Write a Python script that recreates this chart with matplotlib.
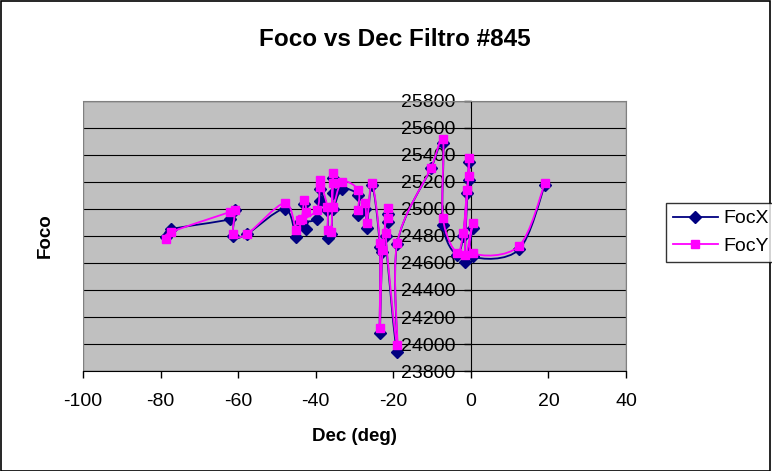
import numpy as np
import matplotlib
matplotlib.use('Agg')
import matplotlib.pyplot as plt
from matplotlib.path import Path
from matplotlib.patches import PathPatch, Rectangle
from matplotlib.lines import Line2D

plt.rcParams['font.family'] = ['Liberation Sans', 'DejaVu Sans']
plt.rcParams['axes.unicode_minus'] = False

# declination of each exposure and the focus found on each axis
dec = [-78.6, -77.2, -62.1, -60.8, -61.2, -57.7, -48.0, -45.0, -43.6, -43.0,
       -42.5, -44.0, -39.7, -39.0, -39.0, -37.0, -36.9, -36.0, -35.6, -35.6,
       -35.6, -33.3, -29.0, -29.0, -27.3, -26.8, -25.5, -23.5, -23.5, -22.8,
       -21.4, -21.4, -22.0, -19.0, -19.0, -10.3, -7.2, -7.2, -3.6, -2.0,
       -1.0, -0.5, -0.5, -1.5, 0.5, 0.5, 12.4, 19.1]
focx = [24790, 24850, 24925, 24990, 24800, 24815, 25000, 24793, 24900, 25040,
        24852, 24900, 24926, 25059, 25150, 24990, 24785, 24815, 25118, 25230,
        25000, 25148, 25100, 24956, 25000, 24860, 25180, 24720, 24081, 24680,
        24960, 24900, 24800, 23940, 24740, 25300, 25489, 24881, 24660, 24800,
        25120, 25215, 25350, 24610, 24859, 24650, 24700, 25180]
focy = [24778, 24830, 24978, 24993, 24815, 24815, 25044, 24844, 24926, 25067,
        24978, 24919, 24993, 25163, 25215, 25015, 24844, 24830, 25193, 25267,
        25015, 25200, 25141, 24993, 25044, 24896, 25193, 24748, 24118, 24696,
        25007, 24933, 24822, 23993, 24748, 25304, 25519, 24933, 24674, 24822,
        25141, 25244, 25378, 24660, 24896, 24674, 24726, 25193]


def smooth_path(x, y):
    # Bezier segments through the points, like a spreadsheet "smoothed line"
    pts = np.column_stack([x, y]).astype(float)
    n = len(pts)
    verts = [pts[0]]
    codes = [Path.MOVETO]
    for i in range(n - 1):
        p0 = pts[i - 1] if i > 0 else pts[i]
        p1 = pts[i]
        p2 = pts[i + 1]
        p3 = pts[i + 2] if i + 2 < n else pts[i + 1]
        verts += [p1 + (p2 - p0) / 6.0, p2 - (p3 - p1) / 6.0, p2]
        codes += [Path.CURVE4] * 3
    return Path(verts, codes)


fig = plt.figure(figsize=(7.72, 4.71), dpi=100)
fig.patch.set_facecolor('white')
fig.add_artist(Rectangle((0.001, 0.001), 0.997, 0.997, transform=fig.transFigure,
                         fill=False, edgecolor='black', lw=1.2))

ax = fig.add_axes([0.1075, 0.2123, 0.7034, 0.5733])
ax.set_facecolor('#C0C0C0')

series = [(focx, '#000080', 'D', 6, 'FocX'), (focy, '#FF00FF', 's', 6, 'FocY')]
z = 2
for vals, col, mk, ms, name in series:
    ax.add_patch(PathPatch(smooth_path(dec, vals), facecolor='none', edgecolor=col,
                           lw=1.3, zorder=z))
    ax.plot(dec, vals, ls='none', marker=mk, ms=ms, color=col, mec=col, zorder=z + 1)
    z += 2

ax.set_xlim(-100, 40)
ax.set_ylim(23800, 25800)
ax.set_xticks(np.arange(-100, 41, 20))
ax.set_yticks(np.arange(23800, 25801, 200))
ax.yaxis.grid(True, color='black', lw=0.8)
ax.set_axisbelow(True)

# y axis crosses at Dec = 0
ax.spines['left'].set_position(('data', 0))
ax.spines['left'].set_color('black')
ax.spines['left'].set_zorder(1.5)
for s in ['top', 'right']:
    ax.spines[s].set_color('#808080')
ax.spines['bottom'].set_color('black')
ax.add_patch(Rectangle((0, 0), 1, 1, transform=ax.transAxes, fill=False,
                       edgecolor='#808080', lw=1, zorder=1))

ax.tick_params(axis='both', direction='out', length=5, width=1, labelsize=14,
               color='black')
ax.tick_params(axis='x', pad=11)
ax.tick_params(axis='y', pad=6)

ax.set_xlabel('Dec (deg)', fontsize=13.5, fontweight='bold', labelpad=13)
fig.text(0.058, 0.5, 'Foco', rotation=90, fontsize=13.5, fontweight='bold',
         ha='center', va='center')
fig.text(0.512, 0.917, 'Foco vs Dec Filtro #845', fontsize=17.5, fontweight='bold',
         ha='center', va='center')

handles = [Line2D([], [], color='#000080', marker='D', ms=6, lw=1.3),
           Line2D([], [], color='#FF00FF', marker='s', ms=6, lw=1.3)]
leg = fig.legend(handles, ['FocX', 'FocY'], loc='upper left',
                 bbox_to_anchor=(0.8627, 0.569), fontsize=14, frameon=True,
                 fancybox=False, handlelength=2.3, handletextpad=0.3,
                 borderpad=0.35, labelspacing=0.5, borderaxespad=0)
leg.get_frame().set_edgecolor('black')
leg.get_frame().set_linewidth(1)

fig.savefig('out.png', dpi=100)
